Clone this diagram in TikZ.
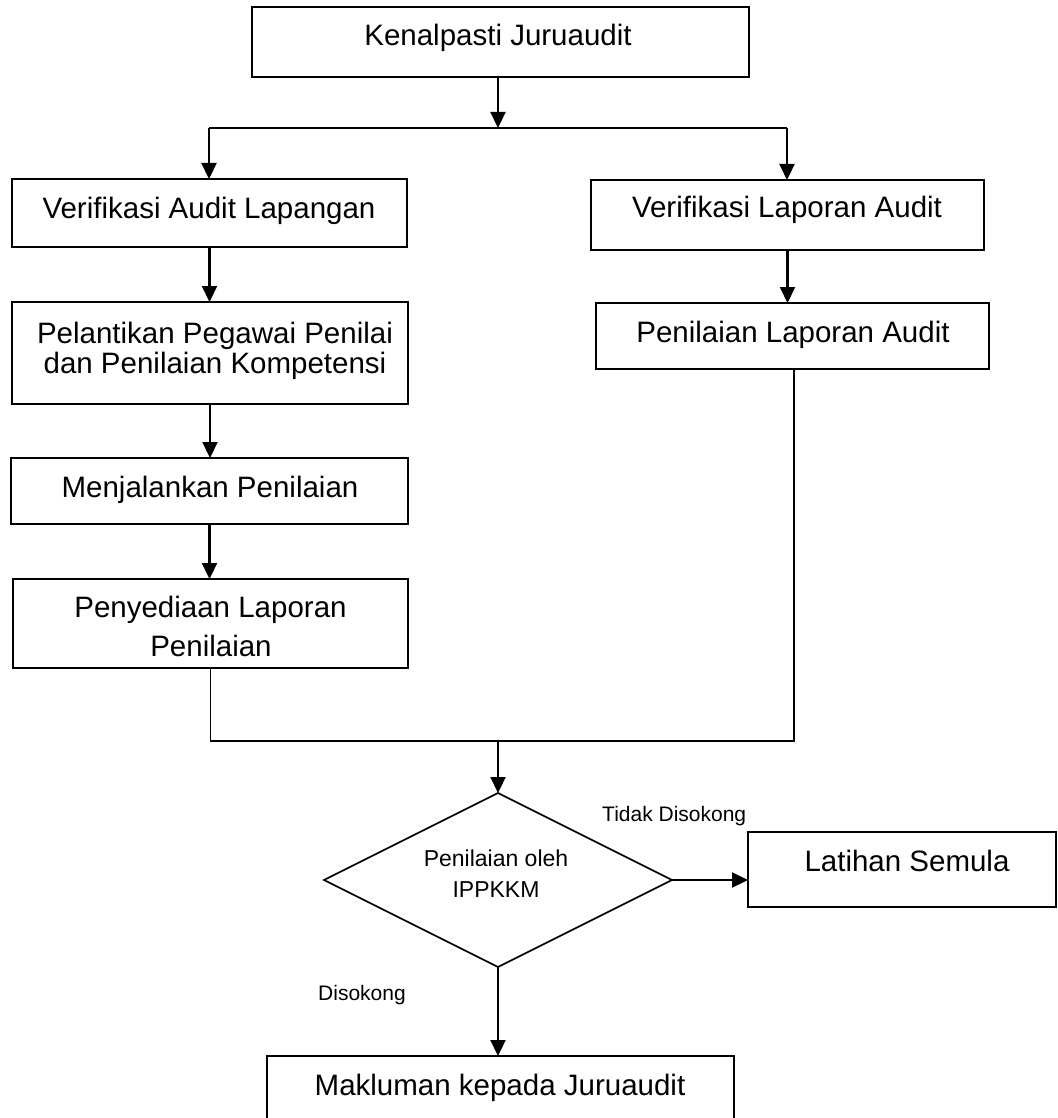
\documentclass[tikz,border=0pt]{standalone}
\usepackage{fontspec}
\setmainfont{Liberation Sans}
\usetikzlibrary{arrows.meta,shapes.geometric}
\begin{document}
\begin{tikzpicture}[x=1pt,y=-1pt,
  box/.style={draw, line width=1.8pt, inner sep=0pt, outer sep=0pt},
  big/.style={font=\fontsize{29.5}{35}\selectfont, anchor=base, inner sep=0pt},
  mid/.style={font=\fontsize{23}{28}\selectfont, anchor=base, inner sep=0pt},
  small/.style={font=\fontsize{21}{25}\selectfont, anchor=base west, inner sep=0pt},
  arr/.style={line width=2.2pt, -{Triangle[length=16pt,width=15pt]}},
  ln/.style={line width=1.5pt}]
\useasboundingbox (0,0) rectangle (1057,1118);
% boxes
\node[box, minimum width=497pt, minimum height=70pt] (k)   at (500.5,42) {};
\node[box, minimum width=395pt, minimum height=68pt] (vla) at (209.5,213) {};
\node[box, minimum width=396pt, minimum height=102pt] (pel) at (210,353) {};
\node[box, minimum width=397pt, minimum height=66pt] (men) at (209.5,491) {};
\node[box, minimum width=395pt, minimum height=89pt] (pen) at (210.5,623.5) {};
\node[box, minimum width=393pt, minimum height=70pt] (vlr) at (787.5,215) {};
\node[box, minimum width=393pt, minimum height=66pt] (plr) at (792.5,336) {};
\node[box, diamond, line width=1.6pt, minimum width=348pt, minimum height=174pt] (dia) at (498,880) {};
\node[box, minimum width=308pt, minimum height=75pt] (lat) at (902,869.5) {};
\node[box, minimum width=467pt, minimum height=72pt] (mak) at (500.5,1092) {};
% texts
\node[big] (tk)  at (498,46)  {Kenalpasti Juruaudit};
\node[big] (tva) at (209,218) {Verifikasi Audit Lapangan};
\node[big] (tp1) at (215,343) {Pelantikan Pegawai Penilai};
\node[big] (tp2) at (215,373) {dan Penilaian Kompetensi};
\node[big] (tm)  at (210,497) {Menjalankan Penilaian};
\node[big] (tn1) at (210.5,617) {Penyediaan Laporan};
\node[big] (tn2) at (211,656) {Penilaian};
\node[big] (tvr) at (787,217) {Verifikasi Laporan Audit};
\node[big] (tpr) at (793,342) {Penilaian Laporan Audit};
\node[mid] (td1) at (496,866) {Penilaian oleh};
\node[mid] (td2) at (496,897) {IPPKKM};
\node[big] (tl)  at (907,871) {Latihan Semula};
\node[big] (tmk) at (500,1095) {Makluman kepada Juruaudit};
\node[small] (ltd) at (602,821) {Tidak Disokong};
\node[small] (lds) at (318,1000) {Disokong};
% connectors
\coordinate (j1) at (498,128);
\coordinate (jl) at (209,128);
\coordinate (jr) at (787,128);
\coordinate (jb) at (498,741);
\coordinate (jbr) at (794,741);
\draw[arr] (k.south -| j1) -- (j1);
\draw[ln] (jl) -- (jr);
\draw[arr] (jl) -- (jl |- vla.north);
\draw[arr] (jr) -- (jr |- vlr.north);
\draw[arr] (vla.south) -- (vla.south |- pel.north);
\draw[arr] (pel.south) -- (pel.south |- men.north);
\draw[arr] (men.south) -- (men.south |- pen.north);
\draw[arr] (vlr.south) -- (vlr.south |- plr.north);
\draw[ln] (pen.south) |- (jbr) -- (jbr |- plr.south);
\draw[arr] (jb) -- (dia.north);
\draw[arr] (dia.east) -- (dia.east -| lat.west);
\draw[arr] (dia.south) -- (dia.south |- mak.north);
\end{tikzpicture}
\end{document}
